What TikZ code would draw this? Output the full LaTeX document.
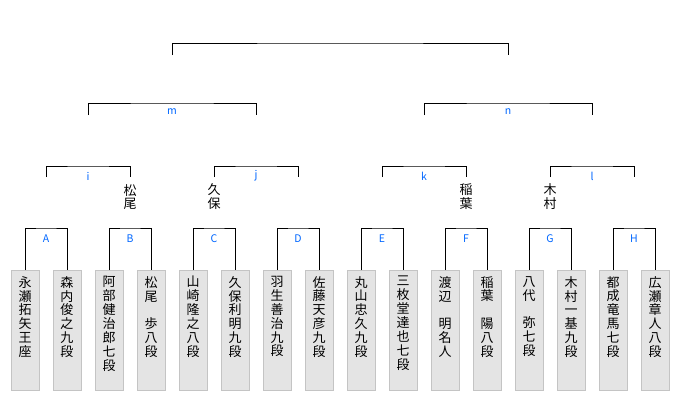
\documentclass[tikz,border=0pt]{standalone}
\usepackage{fontspec}
\setmainfont{Noto Sans CJK JP}
\usepackage{xcolor}
\usepackage{tikz}
\usetikzlibrary{positioning}

\definecolor{matchblue}{HTML}{0066FF}
\definecolor{boxgray}{HTML}{E4E4E4}
\definecolor{boxedge}{HTML}{C4C4C4}

\newcommand\tate[1]{\parbox[c][108pt][t]{16pt}{\centering #1}}

\begin{document}
\begin{tikzpicture}[
    x=1pt, y=-1pt,
    player/.style={rectangle, draw=boxedge, fill=boxgray, minimum width=28pt, minimum height=120pt, anchor=north, inner sep=0pt, font=\fontsize{13}{13.9}\selectfont},
    winner/.style={align=center, inner sep=0pt, font=\fontsize{13}{13.9}\selectfont},
    mlabel/.style={text=matchblue, inner sep=0pt, font=\fontsize{10.5}{11}\selectfont},
    bline/.style={line width=0.9pt},
]
\useasboundingbox (0,0) rectangle (680,400);

% Players
\node[player] (p1) at (25,270) {\tate{永\\瀬\\拓\\矢\\王\\座}};
\node[player] (p2) at (67,270) {\tate{森\\内\\俊\\之\\九\\段}};
\node[player] (p3) at (109,270) {\tate{阿\\部\\健\\治\\郎\\七\\段}};
\node[player] (p4) at (151,270) {\tate{松\\尾\\　\\歩\\八\\段}};
\node[player] (p5) at (193,270) {\tate{山\\崎\\隆\\之\\八\\段}};
\node[player] (p6) at (235,270) {\tate{久\\保\\利\\明\\九\\段}};
\node[player] (p7) at (277,270) {\tate{羽\\生\\善\\治\\九\\段}};
\node[player] (p8) at (319,270) {\tate{佐\\藤\\天\\彦\\九\\段}};
\node[player] (p9) at (361,270) {\tate{丸\\山\\忠\\久\\九\\段}};
\node[player] (p10) at (403,270) {\tate{三\\枚\\堂\\達\\也\\七\\段}};
\node[player] (p11) at (445,270) {\tate{渡\\辺\\　\\明\\名\\人}};
\node[player] (p12) at (487,270) {\tate{稲\\葉\\　\\陽\\八\\段}};
\node[player] (p13) at (529,270) {\tate{八\\代\\　\\弥\\七\\段}};
\node[player] (p14) at (571,270) {\tate{木\\村\\一\\基\\九\\段}};
\node[player] (p15) at (613,270) {\tate{都\\成\\竜\\馬\\七\\段}};
\node[player] (p16) at (655,270) {\tate{広\\瀬\\章\\人\\八\\段}};

% First round
\coordinate (tA) at (46,228);
\coordinate (tB) at (130,228);
\coordinate (tC) at (214,228);
\coordinate (tD) at (298,228);
\coordinate (tE) at (382,228);
\coordinate (tF) at (466,228);
\coordinate (tG) at (550,228);
\coordinate (tH) at (634,228);
\draw[bline] (p1.north) |- (tA) -| (p2.north);
\draw[bline] (p3.north) |- (tB) -| (p4.north);
\draw[bline] (p5.north) |- (tC) -| (p6.north);
\draw[bline] (p7.north) |- (tD) -| (p8.north);
\draw[bline] (p9.north) |- (tE) -| (p10.north);
\draw[bline] (p11.north) |- (tF) -| (p12.north);
\draw[bline] (p13.north) |- (tG) -| (p14.north);
\draw[bline] (p15.north) |- (tH) -| (p16.north);
\node[mlabel] (A) at (46,239) {A};
\node[mlabel] (B) at (130,239) {B};
\node[mlabel] (C) at (214,239) {C};
\node[mlabel] (D) at (298,239) {D};
\node[mlabel] (E) at (382,239) {E};
\node[mlabel] (F) at (466,239) {F};
\node[mlabel] (G) at (550,239) {G};
\node[mlabel] (H) at (634,239) {H};

% Winners so far
\node[winner] (matsuo) at (130,197) {松\\尾};
\node[winner] (kubo) at (214,197) {久\\保};
\node[winner] (inaba) at (466,197) {稲\\葉};
\node[winner] (kimura) at (550,197) {木\\村};

% Second round
\coordinate (iL) at (46,177);  \coordinate (iR) at (130,177); \coordinate (ti) at (88,166);
\coordinate (jL) at (214,177); \coordinate (jR) at (298,177); \coordinate (tj) at (256,166);
\coordinate (kL) at (382,177); \coordinate (kR) at (466,177); \coordinate (tk) at (424,166);
\coordinate (lL) at (550,177); \coordinate (lR) at (634,177); \coordinate (tl) at (592,166);
\draw[bline] (iL) |- (ti) -| (iR);
\draw[bline] (jL) |- (tj) -| (jR);
\draw[bline] (kL) |- (tk) -| (kR);
\draw[bline] (lL) |- (tl) -| (lR);
\node[mlabel] (i) at (88,176) {i};
\node[mlabel] (j) at (256,176) {j};
\node[mlabel] (k) at (424,176) {k};
\node[mlabel] (l) at (592,176) {l};

% Semifinals
\coordinate (mL) at (88,115);  \coordinate (mR) at (256,115); \coordinate (tm) at (172,103);
\coordinate (nL) at (424,115); \coordinate (nR) at (592,115); \coordinate (tn) at (508,103);
\draw[bline] (mL) |- (tm) -| (mR);
\draw[bline] (nL) |- (tn) -| (nR);
\node[mlabel] (m) at (172,112) {m};
\node[mlabel] (n) at (508,112) {n};

% Final
\coordinate (fL) at (172,55); \coordinate (fR) at (508,55); \coordinate (tf) at (340,43);
\draw[bline] (fL) |- (tf) -| (fR);

\end{tikzpicture}
\end{document}
